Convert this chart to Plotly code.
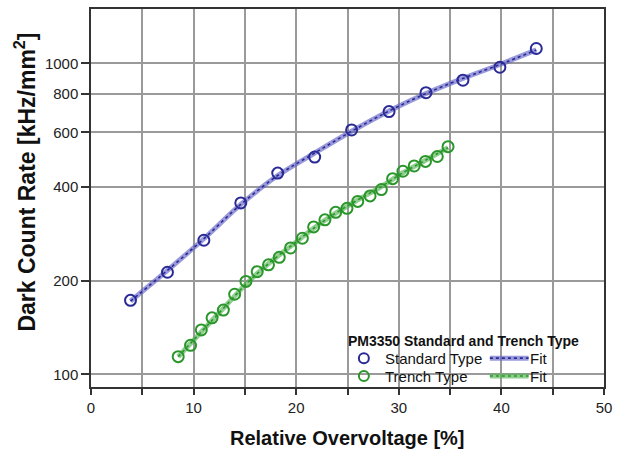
import plotly.graph_objects as go

# Relative overvoltage [%] and dark count rate [kHz/mm^2]
std_x = [3.85, 7.45, 11.0, 14.6, 18.2, 21.8, 25.4, 29.05, 32.65, 36.25, 39.85, 43.4]
std_y = [173, 213, 270, 356, 444, 500, 611, 700, 805, 883, 972, 1117]

trench_x = [8.5, 9.7, 10.75, 11.8, 12.9, 14.0, 15.1, 16.2, 17.3, 18.35, 19.45, 20.6,
            21.7, 22.8, 23.85, 24.95, 26.0, 27.2, 28.3, 29.4, 30.4, 31.5, 32.6, 33.75, 34.8]
trench_y = [114, 124, 139, 152, 161, 181, 199, 214, 225, 238, 255, 274,
            298, 314, 332, 342, 360, 375, 393, 426, 450, 468, 484, 502, 540]

# Fitted curves
std_fit_x = [3.85, 7.45, 11.0, 14.6, 18.2, 21.8, 25.4, 29.05, 32.65, 36.25, 39.85, 43.4]
std_fit_y = [172, 216, 273, 352, 436, 515, 605, 703, 800, 895, 992, 1105]
trench_fit_x = [8.5, 10.75, 12.9, 15.1, 17.3, 19.45, 21.7, 23.85, 26.0, 28.3, 30.4, 32.6, 34.8]
trench_fit_y = [114, 137, 163, 195, 227, 258, 295, 330, 364, 402, 445, 488, 536]

x_ticks = [0, 10, 20, 30, 40, 50]
y_ticks = [100, 200, 400, 600, 800, 1000]

BLUE = "#2a2a96"
BLUE_BAND = "rgba(100,100,200,0.65)"
GREEN = "#2a962a"
GREEN_BAND = "rgba(85,180,85,0.65)"
GRID = "#9a9a9a"
FONT = "Liberation Sans, Arial, Helvetica, sans-serif"

W, H = 619, 454
L, R, T, B = 91, 11, 7, 67
PW, PH = W - L - R, H - T - B


def px(xp):
    return (xp - L) / PW


def py(yp):
    return (H - B - yp) / PH


fig = go.Figure()

for fx, fy, band, core in [(std_fit_x, std_fit_y, BLUE_BAND, BLUE),
                           (trench_fit_x, trench_fit_y, GREEN_BAND, GREEN)]:
    fig.add_trace(go.Scatter(x=fx, y=fy, mode="lines", line=dict(color=band, width=5, shape="spline"),
                             hoverinfo="skip", showlegend=False))
    fig.add_trace(go.Scatter(x=fx, y=fy, mode="lines",
                             line=dict(color=core, width=1.6, dash="dot", shape="spline"),
                             hoverinfo="skip", showlegend=False))

fig.add_trace(go.Scatter(x=std_x, y=std_y, mode="markers", name="Standard Type",
                         marker=dict(symbol="circle-open", size=11, color=BLUE, line=dict(width=2, color=BLUE)),
                         showlegend=False))
fig.add_trace(go.Scatter(x=trench_x, y=trench_y, mode="markers", name="Trench Type",
                         marker=dict(symbol="circle-open", size=11, color=GREEN, line=dict(width=2, color=GREEN)),
                         showlegend=False))

# Legend panel
shapes = [dict(type="rect", xref="paper", yref="paper", x0=px(312), x1=px(600), y0=py(385), y1=py(325),
               fillcolor="white", line=dict(width=0), layer="between")]
annotations = [
    dict(text="<b>PM3350 Standard and Trench Type</b>", xref="paper", yref="paper", x=px(466), y=py(341),
         showarrow=False, xanchor="center", yanchor="middle", font=dict(family=FONT, size=14, color="#111")),
]
for yy, label, col, band in [(358, "Standard Type", BLUE, BLUE_BAND), (376, "Trench Type", GREEN, GREEN_BAND)]:
    shapes.append(dict(type="circle", xref="paper", yref="paper", xsizemode="pixel", ysizemode="pixel",
                       xanchor=px(366), yanchor=py(yy), x0=-5, x1=5, y0=-5, y1=5,
                       line=dict(color=col, width=2), fillcolor="rgba(0,0,0,0)", layer="above"))
    shapes.append(dict(type="line", xref="paper", yref="paper", x0=px(493), x1=px(532), y0=py(yy), y1=py(yy),
                       line=dict(color=band, width=5), layer="above"))
    shapes.append(dict(type="line", xref="paper", yref="paper", x0=px(493), x1=px(532), y0=py(yy), y1=py(yy),
                       line=dict(color=col, width=1.6, dash="dot"), layer="above"))
    annotations.append(dict(text=label, xref="paper", yref="paper", x=px(385), y=py(yy), showarrow=False,
                            xanchor="left", yanchor="middle", font=dict(family=FONT, size=15, color="#111")))
    annotations.append(dict(text="Fit", xref="paper", yref="paper", x=px(531), y=py(yy), showarrow=False,
                            xanchor="left", yanchor="middle", font=dict(family=FONT, size=15, color="#111")))

# Axis titles
annotations.append(dict(text="<b>Relative Overvoltage [%]</b>", xref="paper", yref="paper",
                        x=px(350), y=py(438), showarrow=False, xanchor="center", yanchor="middle",
                        font=dict(family=FONT, size=20, color="#111")))
annotations.append(dict(text="<b>Dark Count Rate [kHz/mm<sup>2</sup>]</b>", xref="paper", yref="paper",
                        x=px(25), y=py(181), showarrow=False, xanchor="center", yanchor="middle",
                        textangle=-90, font=dict(family=FONT, size=23, color="#111")))

fig.update_layout(
    width=W, height=H,
    margin=dict(l=L, r=R, t=T, b=B),
    paper_bgcolor="white", plot_bgcolor="white",
    font=dict(family=FONT, size=15, color="#222"),
    shapes=shapes, annotations=annotations,
    showlegend=False,
)
fig.update_xaxes(
    range=[0, 50], tickvals=x_ticks, ticktext=[str(v) for v in x_ticks],
    ticks="outside", ticklen=6, tickwidth=1.5, tickcolor="#333",
    showgrid=True, gridcolor=GRID, gridwidth=1.5,
    minor=dict(dtick=5, tick0=0, ticks="outside", ticklen=6, tickwidth=1.5, tickcolor="#333",
               showgrid=True, gridcolor=GRID, gridwidth=1.5),
    showline=True, linecolor="#333", linewidth=1.5, mirror=True,
    zeroline=False, tickfont=dict(size=15),
)
fig.update_yaxes(
    type="log", range=[1.9594, 3.175], tickvals=y_ticks, ticktext=[str(v) for v in y_ticks],
    ticks="outside", ticklen=8, tickwidth=1.5, tickcolor="#333",
    showgrid=True, gridcolor=GRID, gridwidth=1.5,
    showline=True, linecolor="#333", linewidth=1.5, mirror=True,
    zeroline=False, tickfont=dict(size=15),
)

fig.write_html("out.html")
